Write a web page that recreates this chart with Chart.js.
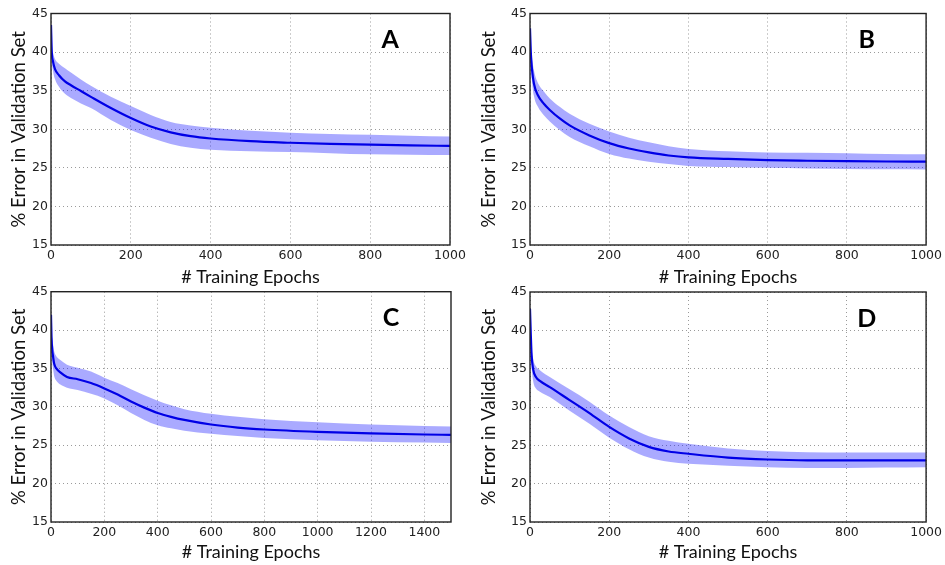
<!DOCTYPE html>
<html>
<head>
<meta charset="utf-8">
<script src="https://cdn.jsdelivr.net/npm/chart.js@4.4.1/dist/chart.umd.min.js"></script>
<style>
  body { margin: 0; background: #fff; width: 945px; height: 565px; position: relative; overflow: hidden; }
  canvas { position: absolute; }
</style>
</head>
<body>
<canvas id="chartA" width="470" height="290" style="left:0px;top:0px"></canvas>
<canvas id="chartB" width="475" height="290" style="left:470px;top:0px"></canvas>
<canvas id="chartC" width="470" height="285" style="left:0px;top:280px"></canvas>
<canvas id="chartD" width="475" height="285" style="left:470px;top:280px"></canvas>
<script>
// Datos (época, media, banda superior, banda inferior)

const epochsA = [0, 2, 5, 10, 20, 35, 50, 75, 100, 150, 200, 250, 300, 350, 400, 500, 600, 700, 800, 900, 1000];
const meanA   = [43.5, 40.0, 38.8, 37.8, 37.0, 36.2, 35.7, 34.95, 34.2, 32.75, 31.45, 30.35, 29.6, 29.1, 28.8, 28.45, 28.25, 28.1, 28.0, 27.9, 27.85];
const upperA  = [43.6, 40.7, 39.9, 39.1, 38.5, 37.9, 37.35, 36.45, 35.65, 34.2, 33.0, 31.85, 30.95, 30.5, 30.2, 29.8, 29.55, 29.4, 29.3, 29.15, 29.05];
const lowerA  = [43.4, 39.2, 37.6, 36.5, 35.5, 34.6, 34.05, 33.35, 32.75, 31.2, 29.9, 28.9, 28.1, 27.6, 27.35, 27.15, 27.05, 26.9, 26.75, 26.7, 26.65];

const epochsB = [0, 2, 5, 10, 20, 35, 50, 75, 100, 150, 200, 250, 300, 350, 400, 500, 600, 700, 800, 900, 1000];
const meanB   = [43.1, 40.0, 37.8, 35.9, 34.4, 33.3, 32.5, 31.4, 30.5, 29.2, 28.2, 27.5, 27.0, 26.6, 26.35, 26.15, 26.0, 25.92, 25.86, 25.82, 25.8];
const upperB  = [43.2, 41.1, 39.4, 37.6, 36.0, 34.9, 34.0, 32.9, 32.0, 30.7, 29.7, 28.9, 28.3, 27.8, 27.45, 27.15, 27.0, 26.95, 26.9, 26.8, 26.75];
const lowerB  = [43.0, 38.9, 36.3, 34.3, 32.9, 31.8, 31.0, 29.9, 29.0, 27.8, 26.8, 26.2, 25.8, 25.5, 25.25, 25.1, 25.0, 24.92, 24.86, 24.83, 24.8];

const epochsC = [0, 2, 5, 8, 12, 20, 35, 60, 100, 150, 200, 250, 300, 350, 400, 450, 500, 600, 700, 800, 1000, 1200, 1400, 1500];
const meanC   = [42.0, 39.0, 37.3, 36.5, 35.6, 35.0, 34.5, 33.9, 33.6, 33.1, 32.4, 31.6, 30.7, 29.9, 29.2, 28.7, 28.3, 27.7, 27.3, 27.05, 26.75, 26.55, 26.4, 26.35];
const upperC  = [42.1, 40.1, 38.9, 38.1, 37.2, 36.6, 36.1, 35.5, 35.1, 34.6, 33.8, 33.1, 32.3, 31.5, 30.8, 30.2, 29.7, 29.1, 28.7, 28.4, 28.0, 27.7, 27.5, 27.45];
const lowerC  = [41.9, 37.9, 35.8, 34.9, 34.0, 33.4, 32.9, 32.5, 32.2, 31.7, 31.1, 30.2, 29.2, 28.3, 27.6, 27.2, 26.9, 26.5, 26.2, 25.95, 25.65, 25.45, 25.35, 25.3];

const epochsD = [0, 2, 4, 8, 15, 25, 50, 100, 150, 200, 250, 300, 350, 400, 500, 600, 700, 800, 900, 1000];
const meanD   = [42.8, 39.5, 36.8, 34.9, 33.9, 33.4, 32.6, 30.9, 29.2, 27.4, 25.9, 24.8, 24.2, 23.9, 23.4, 23.15, 23.05, 23.05, 23.05, 23.05];
const upperD  = [42.9, 40.6, 38.1, 36.3, 35.3, 34.8, 33.9, 32.3, 30.7, 28.9, 27.4, 26.2, 25.6, 25.2, 24.6, 24.25, 24.1, 24.05, 24.05, 24.05];
const lowerD  = [42.7, 38.4, 35.5, 33.4, 32.4, 32.0, 31.3, 29.5, 27.8, 26.0, 24.5, 23.4, 22.85, 22.6, 22.35, 22.15, 22.05, 22.05, 22.1, 22.15];

const yMin = 15, yMax = 45, yStep = 5;
const xStep = 200;
const xTitle = '# Training Epochs';
const yTitle = '% Error in Validation Set';

const lineColor = '#0000e6';
const bandColor = 'rgba(20, 20, 255, 0.36)';
const titleFont = 'Lato, "Open Sans", sans-serif';
const tickFont = '"DejaVu Sans", sans-serif';

// Marco negro alrededor del área y letra del panel
const frameAndLabel = {
    id: 'frameAndLabel',
    afterDraw(chart, args, opts) {
        const { ctx, chartArea: a } = chart;
        ctx.save();
        ctx.strokeStyle = '#222';
        ctx.lineWidth = 1.4;
        ctx.strokeRect(a.left, a.top, a.right - a.left, a.bottom - a.top);
        ctx.fillStyle = '#000';
        ctx.font = 'bold 25px ' + titleFont;
        ctx.textAlign = 'center';
        ctx.textBaseline = 'middle';
        ctx.fillText(opts.text, a.left + 0.85 * (a.right - a.left), a.top + 0.115 * (a.bottom - a.top));
        ctx.restore();
    }
};

function toPoints(xs, ys) {
    return xs.map((x, i) => ({ x: x, y: ys[i] }));
}

function createPanel(id, letter, epochs, mean, upper, lower, xMax, lay) {
    const ctx = document.getElementById(id);
    return new Chart(ctx, {
        type: 'line',
        data: {
            datasets: [
                {
                    label: 'Media',
                    data: toPoints(epochs, mean),
                    borderColor: lineColor,
                    borderWidth: 2.2,
                    pointRadius: 0,
                    cubicInterpolationMode: 'monotone',
                    fill: false
                },
                {
                    label: 'Inferior',
                    data: toPoints(epochs, lower),
                    borderWidth: 0,
                    borderColor: 'transparent',
                    pointRadius: 0,
                    cubicInterpolationMode: 'monotone',
                    fill: false
                },
                {
                    label: 'Superior',
                    data: toPoints(epochs, upper),
                    borderWidth: 0,
                    borderColor: 'transparent',
                    backgroundColor: bandColor,
                    pointRadius: 0,
                    cubicInterpolationMode: 'monotone',
                    fill: '-1'
                }
            ]
        },
        options: {
            responsive: false,
            animation: false,
            layout: {
                padding: { top: lay.padTop, right: lay.padRight, left: 0, bottom: 0 }
            },
            plugins: {
                legend: { display: false },
                tooltip: { enabled: false },
                frameAndLabel: { text: letter }
            },
            scales: {
                x: {
                    type: 'linear',
                    min: 0,
                    max: xMax,
                    afterFit: s => { s.height = lay.xAxisHeight; },
                    grid: { color: '#9a9a9a', lineWidth: 1, drawTicks: false },
                    border: { display: false, dash: [1, 3] },
                    ticks: {
                        stepSize: xStep,
                        includeBounds: false,
                        padding: 3,
                        color: '#222',
                        maxRotation: 0,
                        font: { family: tickFont, size: 12.5 },
                        callback: v => String(v)
                    },
                    title: {
                        display: true,
                        text: xTitle,
                        color: '#111',
                        padding: { top: 0, bottom: lay.xTitlePad },
                        font: { family: titleFont, size: 18, lineHeight: 1.2 }
                    }
                },
                y: {
                    min: yMin,
                    max: yMax,
                    afterFit: s => { s.width = lay.yAxisWidth; },
                    grid: { color: '#9a9a9a', lineWidth: 1, drawTicks: false },
                    border: { display: false, dash: [1, 3] },
                    ticks: {
                        stepSize: yStep,
                        padding: 3,
                        color: '#222',
                        font: { family: tickFont, size: 12.5 },
                        callback: v => String(v)
                    },
                    title: {
                        display: true,
                        text: yTitle,
                        color: '#111',
                        padding: { top: lay.yTitlePad, bottom: 0 },
                        font: { family: titleFont, size: 18.5, lineHeight: 1.2 }
                    }
                }
            }
        },
        plugins: [frameAndLabel]
    });
}

createPanel('chartA', 'A', epochsA, meanA, upperA, lowerA, 1000,
    { padTop: 13.5, padRight: 20, xAxisHeight: 45, yAxisWidth: 51, yTitlePad: 7.5, xTitlePad: 2 });
createPanel('chartB', 'B', epochsB, meanB, upperB, lowerB, 1000,
    { padTop: 13.5, padRight: 16, xAxisHeight: 45, yAxisWidth: 60, yTitlePad: 8, xTitlePad: 2 });
createPanel('chartC', 'C', epochsC, meanC, upperC, lowerC, 1500,
    { padTop: 11.7, padRight: 19, xAxisHeight: 43, yAxisWidth: 51, yTitlePad: 7.5, xTitlePad: 2.5 });
createPanel('chartD', 'D', epochsD, meanD, upperD, lowerD, 1000,
    { padTop: 12, padRight: 16, xAxisHeight: 43, yAxisWidth: 60, yTitlePad: 8, xTitlePad: 2.5 });
</script>
</body>
</html>
